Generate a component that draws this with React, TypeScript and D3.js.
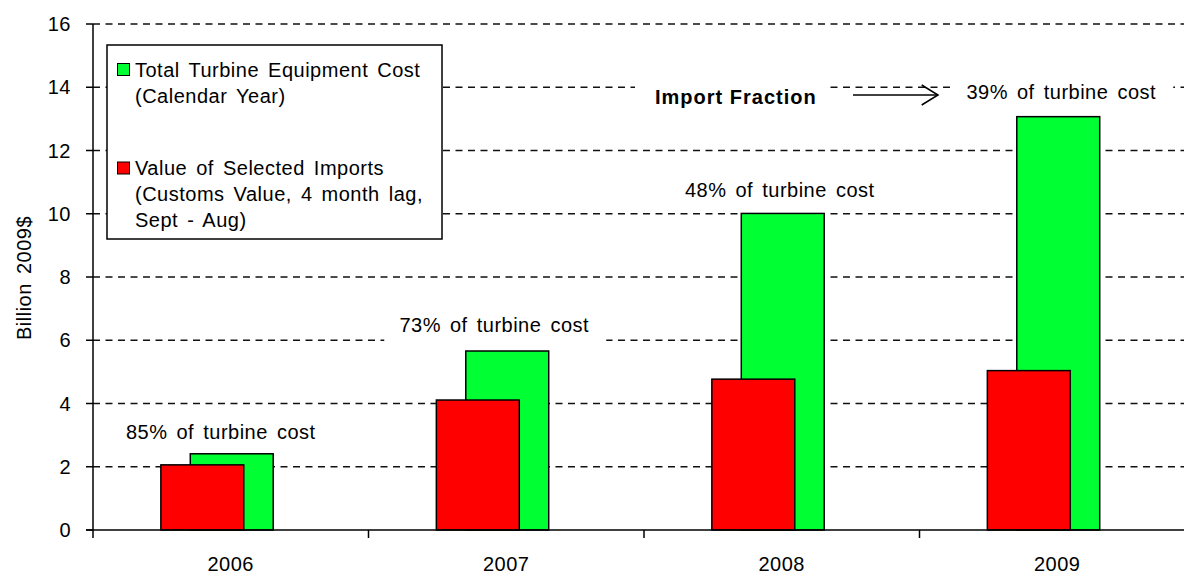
import React from "react";
import * as d3 from "d3";

const years = ["2006", "2007", "2008", "2009"];
const turbineCost = [2.41, 5.66, 10.01, 13.07];
const importValue = [2.06, 4.11, 4.77, 5.04];
const fractionLabels = ["85% of turbine cost", "73% of turbine cost", "48% of turbine cost", "39% of turbine cost"];
const yTicks = [0, 2, 4, 6, 8, 10, 12, 14, 16];
const legendTurbine = ["Total Turbine Equipment Cost", "(Calendar Year)"];
const legendImports = ["Value of Selected Imports", "(Customs Value, 4 month lag,", "Sept - Aug)"];
const yTitle = "Billion 2009$";
const arrowLabel = "Import Fraction";

const W = 1184;
const H = 576;
const FONT = "'Liberation Sans', Arial, Helvetica, sans-serif";
const GREEN = "#00FF33";
const RED = "#FF0000";
const FS = 20;

// layout offsets for fraction labels (dx from band centre, dy above green bar top)
const labelDx = [-10, -12, -2, 4];
const labelDy = [-15, -19, -16, -18];
const labelBoxes = [false, true, false, true];

export default function App() {
  const x = d3.scaleBand<string>().domain(years).range([93, 93 + 4 * 275.5]).padding(0);
  const y = d3.scaleLinear().domain([0, 16]).range([530, 24]);
  const bw = x.bandwidth();
  const barW = bw * 0.301;
  const redShift = barW * 0.355;

  const textStyle: React.CSSProperties = { letterSpacing: "0.5px", wordSpacing: "3px" };

  return (
    <svg
      width={W}
      height={H}
      style={{ position: "absolute", left: 0, top: 0, background: "#fff", fontFamily: FONT }}
    >
      <rect x={0} y={0} width={W} height={H} fill="#fff" />
      {/* gridlines */}
      {yTicks.filter((t) => t > 0).map((t) => (
        <line
          key={"g" + t}
          x1={93}
          x2={93 + 4 * 275.5}
          y1={y(t)}
          y2={y(t)}
          stroke="#111"
          strokeWidth={1.5}
          strokeDasharray="7,5.5"
        />
      ))}
      {/* bars */}
      {years.map((yr, i) => {
        const c = (x(yr) as number) + bw / 2;
        return (
          <g key={yr}>
            <rect
              x={c - barW / 2 + 1}
              y={y(turbineCost[i])}
              width={barW}
              height={y(0) - y(turbineCost[i])}
              fill={GREEN}
              stroke="#000"
              strokeWidth={1.5}
            />
            <rect
              x={c - barW / 2 - redShift + 1}
              y={y(importValue[i])}
              width={barW}
              height={y(0) - y(importValue[i])}
              fill={RED}
              stroke="#000"
              strokeWidth={1.5}
            />
          </g>
        );
      })}
      {/* fraction labels */}
      {years.map((yr, i) => {
        const cx = (x(yr) as number) + bw / 2 + labelDx[i];
        const by = y(turbineCost[i]) + labelDy[i];
        return (
          <g key={"l" + yr}>
            {labelBoxes[i] && (
              <rect x={cx - 110} y={by - 22} width={222} height={34} fill="#fff" />
            )}
            <text x={cx} y={by} textAnchor="middle" fontSize={FS} fill="#000" style={textStyle}>
              {fractionLabels[i]}
            </text>
          </g>
        );
      })}
      {/* Import Fraction annotation */}
      <rect x={635} y={72} width={192} height={40} fill="#fff" />
      <text x={655} y={104} fontSize={FS} fontWeight="bold" fill="#000" style={{ letterSpacing: "1px" }}>
        {arrowLabel}
      </text>
      <line x1={853} x2={937} y1={95} y2={95} stroke="#000" strokeWidth={1.5} />
      <polyline points="921.7,85 938,95 921.7,105" fill="none" stroke="#000" strokeWidth={1.5} />

      {/* legend */}
      <rect x={107} y={45} width={335} height={194} fill="#fff" stroke="#000" strokeWidth={1.5} />
      <rect x={117.5} y={63.5} width={12} height={12} fill={GREEN} stroke="#000" strokeWidth={1} />
      <rect x={117.5} y={162} width={12} height={12} fill={RED} stroke="#000" strokeWidth={1} />
      {legendTurbine.map((s, i) => (
        <text key={"lt" + i} x={135} y={77 + i * 26} fontSize={FS} fill="#000" style={textStyle}>
          {s}
        </text>
      ))}
      {legendImports.map((s, i) => (
        <text key={"li" + i} x={135} y={175 + i * 26} fontSize={FS} fill="#000" style={textStyle}>
          {s}
        </text>
      ))}

      {/* y axis */}
      <line x1={93} x2={93} y1={y(16)} y2={y(0)} stroke="#000" strokeWidth={1.5} />
      {yTicks.map((t) => (
        <g key={"yt" + t}>
          <line x1={86} x2={93} y1={y(t)} y2={y(t)} stroke="#000" strokeWidth={1.5} />
          <text x={71} y={y(t) + 7} textAnchor="end" fontSize={FS} fill="#000" style={textStyle}>
            {t}
          </text>
        </g>
      ))}
      <text
        transform={`translate(31, ${(y(16) + y(0)) / 2 + 1}) rotate(-90)`}
        textAnchor="middle"
        fontSize={FS}
        fill="#000"
        style={textStyle}
      >
        {yTitle}
      </text>

      {/* x axis */}
      <line x1={86} x2={93 + 4 * 275.5} y1={y(0)} y2={y(0)} stroke="#000" strokeWidth={1.5} />
      {years.map((yr) => (
        <line
          key={"xt" + yr}
          x1={x(yr) as number}
          x2={x(yr) as number}
          y1={y(0)}
          y2={y(0) + 8}
          stroke="#000"
          strokeWidth={1.5}
        />
      ))}
      {years.map((yr) => (
        <text
          key={"xl" + yr}
          x={(x(yr) as number) + bw / 2}
          y={571}
          textAnchor="middle"
          fontSize={FS}
          fill="#000"
          style={textStyle}
        >
          {yr}
        </text>
      ))}
    </svg>
  );
}
